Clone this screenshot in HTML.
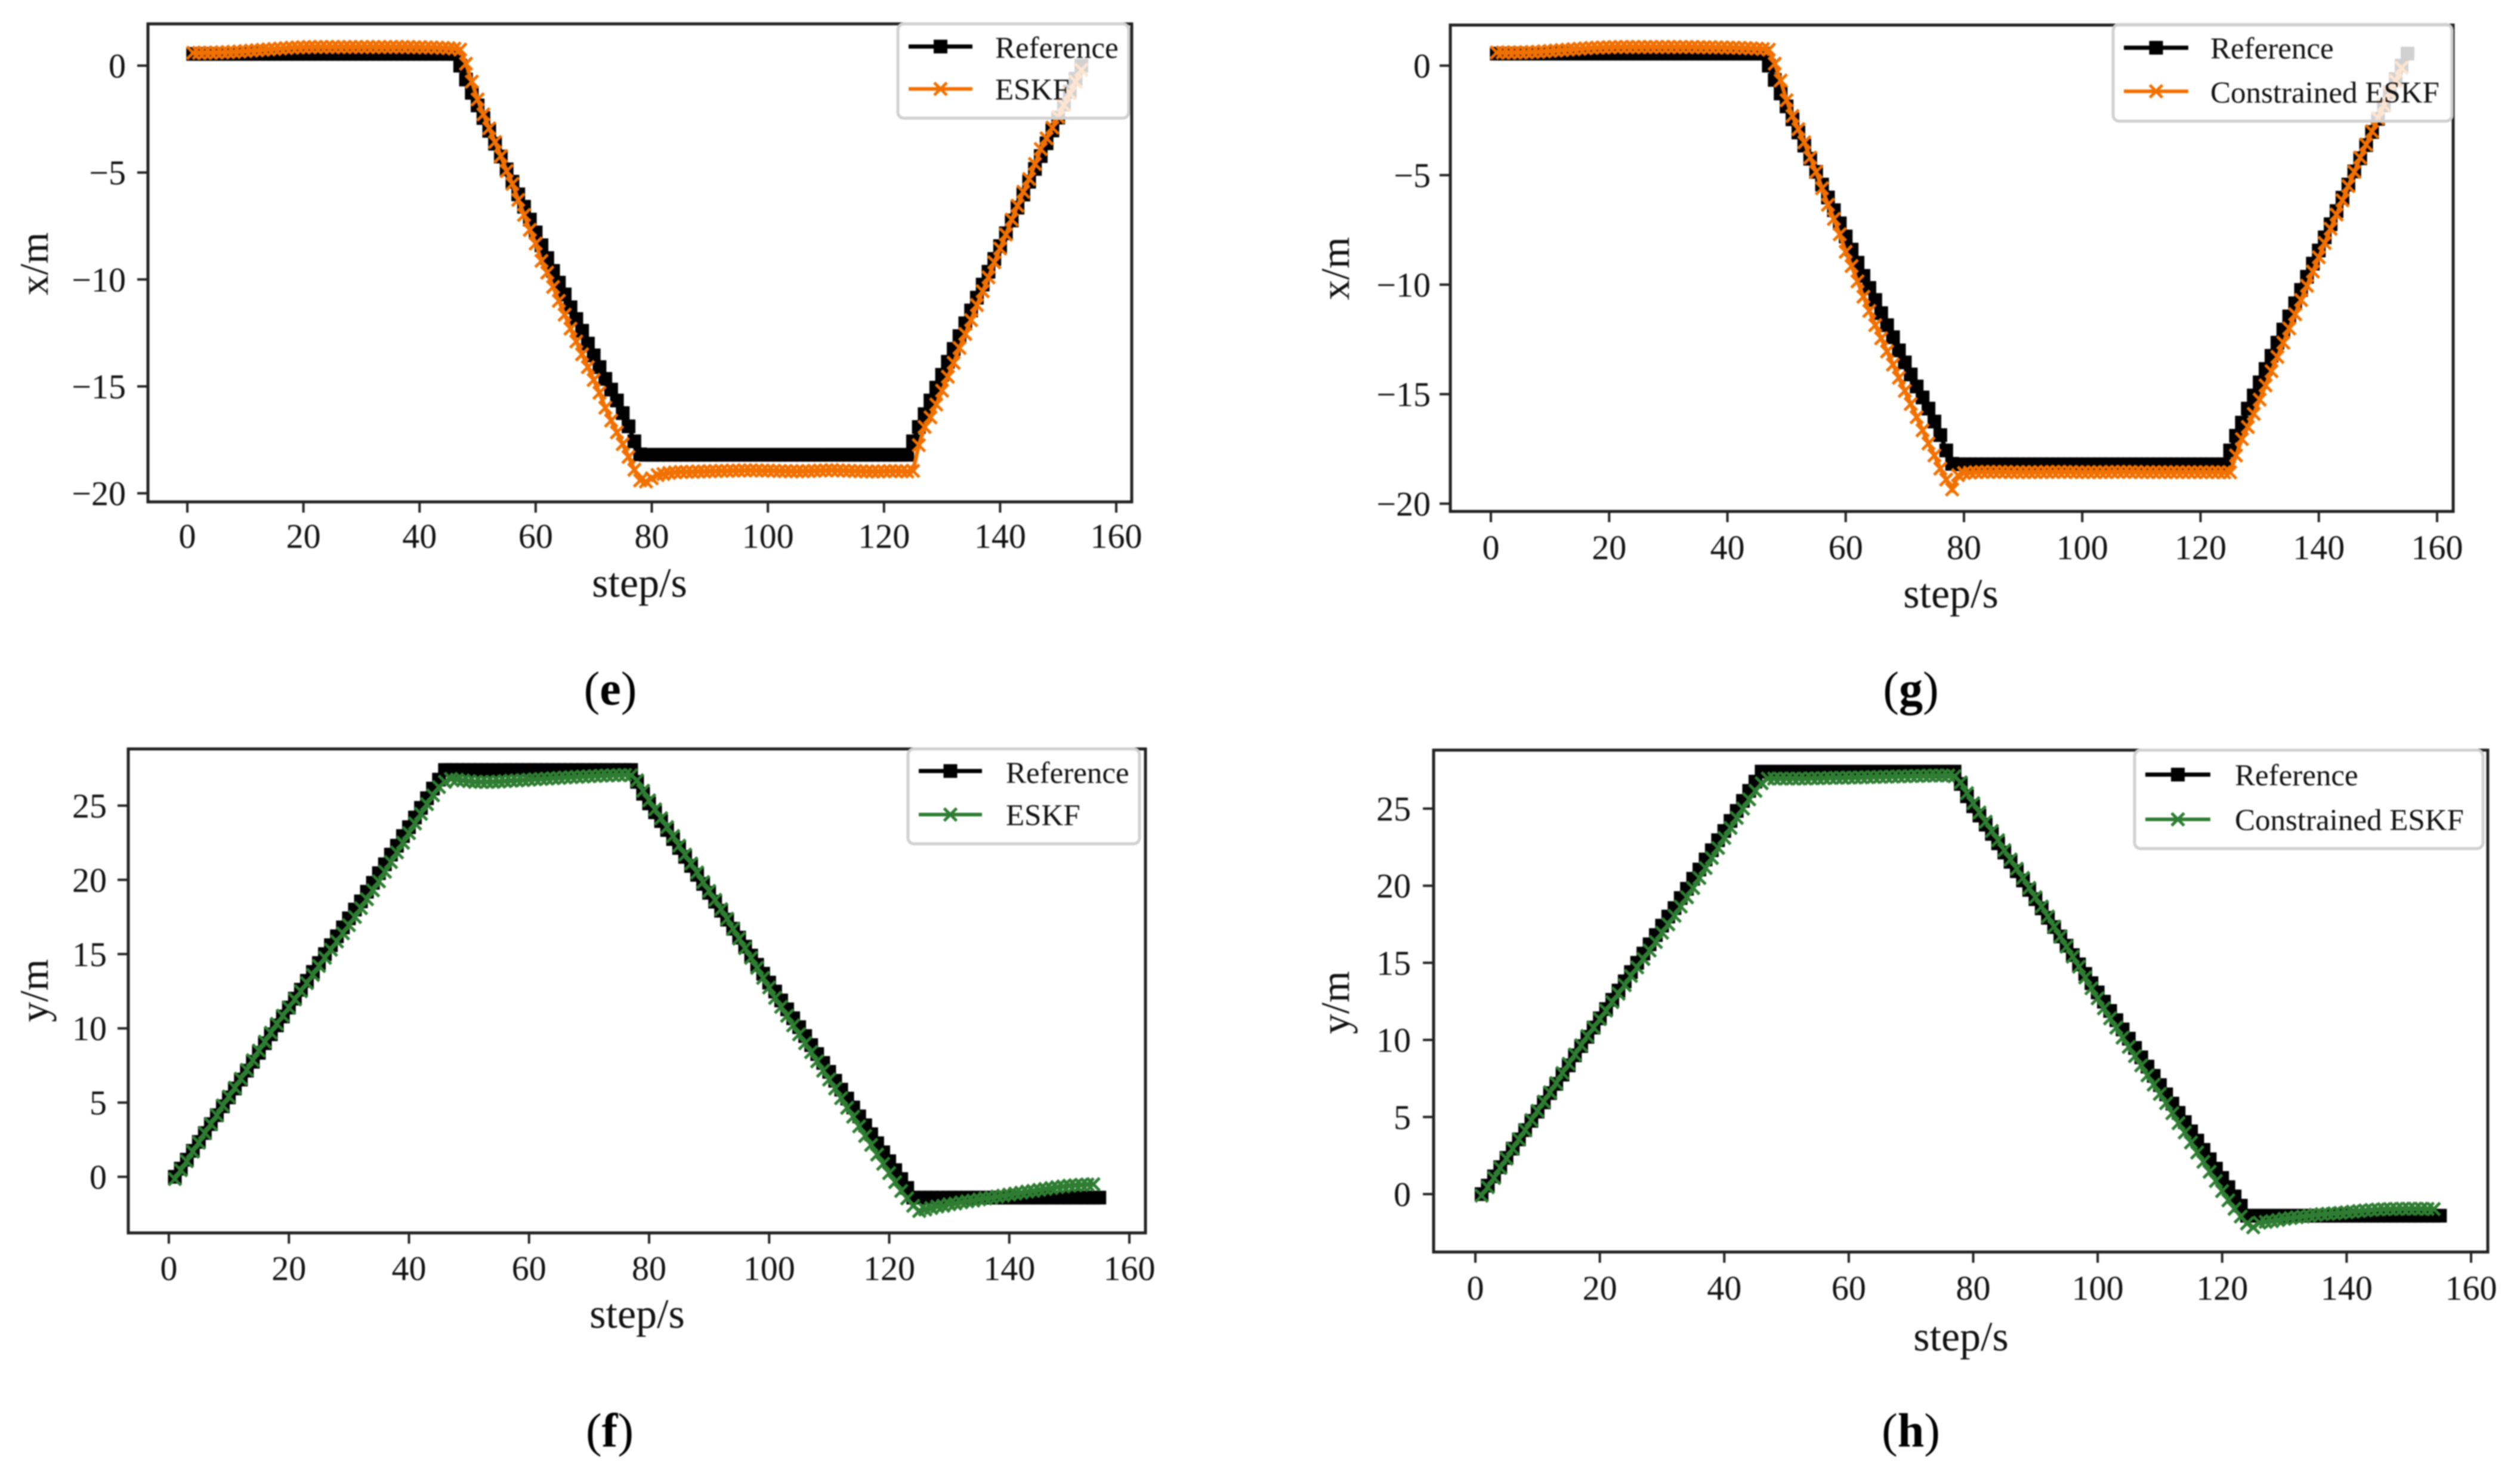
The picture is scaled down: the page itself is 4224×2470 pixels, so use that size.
<!DOCTYPE html>
<html lang="en">
<head>
<meta charset="utf-8">
<title>ESKF and Constrained ESKF trajectory comparison</title>
<style>
html,body{margin:0;padding:0;background:#fff;}
#figure{display:block;width:4224px;height:2470px;background:#fff;filter:blur(1px);font-family:"Liberation Serif",serif;}
</style>
</head>
<body>
<svg id="figure" xmlns="http://www.w3.org/2000/svg" width="4224" height="2470" viewBox="0 0 4224 2470"></svg>
<script>
const steps = [1,2,3,4,5,6,7,8,9,10,11,12,13,14,15,16,17,18,19,20,21,22,23,24,25,26,27,28,29,30,31,32,33,34,35,36,37,38,39,40,41,42,43,44,45,46,47,48,49,50,51,52,53,54,55,56,57,58,59,60,61,62,63,64,65,66,67,68,69,70,71,72,73,74,75,76,77,78,79,80,81,82,83,84,85,86,87,88,89,90,91,92,93,94,95,96,97,98,99,100,101,102,103,104,105,106,107,108,109,110,111,112,113,114,115,116,117,118,119,120,121,122,123,124,125,126,127,128,129,130,131,132,133,134,135,136,137,138,139,140,141,142,143,144,145,146,147,148,149,150,151,152,153,154,155];

const referenceX = [
.55,.55,.55,.55,.55,.55,.55,.55,.55,.55,.55,.55,.55,.55,.55,.55,.55,.55,.55,.55,.55,.55,.55,.55,.55,.55,.55,.55,.55,.55,.55,.55,.55,.55,.55,.55,.55,.55,.55,.55,.55,.55,.55,.55,.55,.55,
0,-.65,-1.27,-1.86,-2.45,-3.05,-3.65,-4.25,-4.85,-5.43,-6.02,-6.6,-7.2,-7.8,-8.4,-9,-9.6,-10.15,-10.7,-11.3,-11.85,-12.4,-13,-13.55,-14.1,-14.65,-15.15,-15.66,-16.25,-16.87,-17.57,-18.18,
-18.2,-18.2,-18.2,-18.2,-18.2,-18.2,-18.2,-18.2,-18.2,-18.2,-18.2,-18.2,-18.2,-18.2,-18.2,-18.2,-18.2,-18.2,-18.2,-18.2,-18.2,-18.2,-18.2,-18.2,-18.2,-18.2,-18.2,-18.2,-18.2,-18.2,-18.2,-18.2,-18.2,-18.2,-18.2,-18.2,-18.2,-18.2,-18.2,-18.2,-18.2,-18.2,-18.2,-18.2,-18.2,-18.2,
-17.57,-16.9,-16.3,-15.66,-15.06,-14.46,-13.85,-13.25,-12.65,-12.05,-11.45,-10.85,-10.24,-9.64,-9.04,-8.44,-7.84,-7.24,-6.64,-6.03,-5.43,-4.83,-4.23,-3.63,-3.03,-2.43,-1.82,-1.22,-.61,0,.55
];

const referenceY = [
0,.55,1.15,1.75,2.35,2.95,3.55,4.15,4.75,5.35,5.95,6.55,7.15,7.75,8.35,9,9.6,10.2,10.8,11.4,12,12.6,13.2,13.8,14.4,15,15.6,16.2,16.8,17.41,18,18.55,19.2,19.8,20.45,21.05,21.7,22.3,22.95,23.55,24.2,24.85,25.5,26.15,26.75,27.4,
27.4,27.4,27.4,27.4,27.4,27.4,27.4,27.4,27.4,27.4,27.4,27.4,27.4,27.4,27.4,27.4,27.4,27.4,27.4,27.4,27.4,27.4,27.4,27.4,27.4,27.4,27.4,27.4,27.4,27.4,27.4,
26.6,25.8,25.15,24.55,23.96,23.36,22.75,22.15,21.55,20.94,20.34,19.73,19.13,18.53,17.92,17.32,16.71,16.11,15.5,14.9,14.28,13.68,13.08,12.48,11.88,11.28,10.68,10.08,9.48,8.87,8.27,7.67,7.07,6.47,5.87,5.27,4.67,4.07,3.47,2.87,2.26,1.65,1.05,.45,-.15,-.75,-1.4,
-1.4,-1.4,-1.4,-1.4,-1.4,-1.4,-1.4,-1.4,-1.4,-1.4,-1.4,-1.4,-1.4,-1.4,-1.4,-1.4,-1.4,-1.4,-1.4,-1.4,-1.4,-1.4,-1.4,-1.4,-1.4,-1.4,-1.4,-1.4,-1.4,-1.4,-1.4
];

const eskfX = [
.6,.6,.6,.6,.61,.62,.63,.64,.66,.68,.7,.72,.74,.76,.78,.8,.82,.84,.85,.86,
.87,.87,.87,.87,.87,.87,.87,.87,.87,.87,.87,.87,.87,.87,.87,.87,.87,.87,.86,.86,
.85,.85,.84,.83,.82,.8,
.75,.09,-.75,-1.58,-2.28,-2.93,-3.57,-4.23,-4.93,-5.53,-6.28,-6.98,-7.68,-8.32,-9.13,-9.68,
-10.35,-11,-11.65,-12.3,-12.9,-13.5,-14.1,-14.7,-15.3,
-16,-16.6,-17.15,-17.7,-18.3,-18.9,-19.4,
-19.45,-19.3,-19.15,-19.1,-19.05,
-19.02,-19,-19,-19,-18.98,-18.98,-18.97,
-18.96,-18.95,-18.95,-18.94,-18.94,-18.93,-18.93,-18.93,-18.94,-18.94,
-18.95,-18.96,-18.96,-18.97,-18.97,-18.97,-18.96,-18.95,-18.94,-18.93,
-18.92,-18.93,-18.94,-18.95,-18.96,-18.97,-18.98,-18.98,-18.98,-18.97,
-18.96,-18.96,-18.97,-18.98,-18.95,
-17.75,-16.9,-16.45,-15.85,-15.2,-14.55,-13.9,-13.2,-12.55,-11.9,-11.2,-10.55,-9.9,-9.2,-8.55,-7.9,-7.2,-6.55,-5.9,-5.3,-4.6,-3.9,-3.4,-2.9,-2.4,-1.85,-1.3,-.75,-.2
];

const constrainedX = [
.6,.6,.6,.6,.6,.61,.62,.63,.65,.67,.69,.71,.73,.75,.77,.79,.81,.82,.83,.84,
.85,.85,.85,.85,.85,.85,.85,.85,.85,.85,.85,.85,.85,.85,.84,.84,.84,.83,.83,.82,
.82,.81,.8,.79,.78,.76,
.73,.09,-.68,-1.58,-2.3,-2.9,-3.5,-4.2,-4.85,-5.6,-6.35,-7,-7.7,-8.5,-9.15,-9.85,-10.55,-11.2,-11.85,-12.45,-13.05,-13.65,-14.25,-14.85,-15.45,-16.05,-16.65,-17.25,-17.8,-18.4,-18.9,-19.35,-18.7,-18.6,
-18.58,-18.56,-18.55,-18.55,-18.55,-18.55,-18.55,-18.56,-18.56,-18.56,
-18.56,-18.56,-18.56,-18.55,-18.55,-18.55,-18.55,-18.55,-18.56,-18.56,
-18.56,-18.56,-18.56,-18.56,-18.55,-18.55,-18.55,-18.55,-18.55,-18.56,
-18.56,-18.56,-18.56,-18.56,-18.56,-18.56,-18.56,-18.56,-18.56,-18.56,
-18.56,-18.56,-18.56,-18.57,-18.57,
-17.8,-17.05,-16.5,-15.9,-15.25,-14.6,-13.95,-13.3,-12.65,-12,-11.35,-10.7,-10.05,-9.4,-8.75,-8.1,-7.45,-6.8,-6.15,-5.5,-4.85,-4.2,-3.6,-3,-2.4,-1.8,-1.25,-.7,-.1
];

const eskfY = [
-.15,.45,1.05,1.7,2.3,2.95,3.55,4.15,4.8,5.4,6,6.6,7.2,7.85,8.5,9.1,9.7,10.3,10.85,11.4,11.95,12.5,13.05,13.6,14.2,14.75,15.3,15.85,16.4,16.95,17.5,18.1,18.7,19.3,19.9,20.55,21.2,21.85,22.5,23.15,23.8,24.45,25.1,25.7,26.25,26.6,
26.8,26.75,26.7,26.65,26.6,26.6,26.6,26.6,26.62,26.65,26.68,26.7,26.72,26.75,26.78,26.8,26.82,26.85,26.87,26.9,26.92,26.94,26.96,26.98,27,27.02,27.03,27.05,27.06,27.07,27.05,
26.7,26,25.35,24.75,24.15,23.55,22.95,22.3,21.7,21.1,20.5,19.85,19.25,18.65,18.02,17.38,16.7,16.05,15.4,14.75,14.08,13.4,12.75,12.05,11.45,10.85,10.2,9.6,9,8.4,7.78,7.15,6.55,5.95,5.3,4.65,4.05,3.4,2.75,2.15,1.5,.88,.25,-.35,-.95,-1.45,-1.95,
-2.3,-2.2,-2.1,-2,-1.95,-1.85,-1.8,-1.72,-1.65,-1.6,-1.52,-1.45,-1.4,-1.33,-1.27,-1.2,-1.13,-1.07,-1,-.95,-.88,-.82,-.76,-.7,-.65,-.6,-.57,-.54,-.52,-.5
];

const constrainedY = [
-.1,.45,1.05,1.7,2.3,2.95,3.55,4.15,4.8,5.4,6,6.6,7.2,7.85,8.45,9.05,9.65,10.25,10.8,11.35,11.9,12.45,13,13.55,14.15,14.7,15.25,15.8,16.35,16.95,17.5,18.05,18.65,19.25,19.85,20.5,21.15,21.8,22.45,23.1,23.75,24.4,25,25.6,26.15,26.65,
26.95,26.95,26.95,26.95,26.95,26.95,26.95,26.97,26.97,26.98,27,27,27,27.02,27.02,27.03,27.04,27.05,27.06,27.07,27.08,27.09,27.1,27.11,27.12,27.13,27.14,27.15,27.15,27.15,27.1,
26.7,26,25.35,24.75,24.15,23.55,22.95,22.3,21.7,21.1,20.5,19.85,19.25,18.65,18,17.35,16.7,16.05,15.4,14.75,14.05,13.35,12.7,12.05,11.4,10.8,10.15,9.55,8.95,8.35,7.7,7.1,6.5,5.9,5.25,4.6,4,3.35,2.7,2.1,1.45,.85,.2,-.4,-.95,-1.45,-1.9,
-2.15,-1.85,-1.8,-1.75,-1.68,-1.6,-1.55,-1.5,-1.45,-1.4,-1.35,-1.3,-1.28,-1.25,-1.22,-1.18,-1.14,-1.1,-1.06,-1.03,-1,-.98,-.97,-.96,-.95,-.95,-.95,-.95,-.96,-.97
];

const xTickValues = [0,20,40,60,80,100,120,140,160];
const xPositionTicks = [0,-5,-10,-15,-20];
const yPositionTicks = [0,5,10,15,20,25];

const NS = 'http://www.w3.org/2000/svg';
const root = document.getElementById('figure');
const ORANGE = '#f07000';
const GREEN = '#2e7d32';

function make(tag, parent, attrs) {
  const el = document.createElementNS(NS, tag);
  for (const k in attrs) el.setAttribute(k, attrs[k]);
  parent.appendChild(el);
  return el;
}
function tickLabel(v) {
  return v < 0 ? '\u2212' + Math.abs(v) : String(v);
}
function linePath(xs, ys, sx, sy, n) {
  let d = '';
  for (let i = 0; i < n; i++) {
    d += (i ? 'L' : 'M') + sx(xs[i]).toFixed(1) + ' ' + sy(ys[i]).toFixed(1);
  }
  return d;
}
function drawSquare(parent, cx, cy, size) {
  const m = make('rect', parent, {x: cx - size / 2, y: cy - size / 2, width: size, height: size, fill: '#000'});
  
  
}
function drawCross(parent, cx, cy, r, color, width) {
  const m = make('path', parent, {d: 'M' + (cx - r) + ' ' + (cy - r) + 'L' + (cx + r) + ' ' + (cy + r) + 'M' + (cx - r) + ' ' + (cy + r) + 'L' + (cx + r) + ' ' + (cy - r), stroke: color, 'stroke-width': width, fill: 'none'});
  
  
}

function drawPanel(p) {
  const g = make('g', root, {});
  
  

  const sx = v => p.x0 + v * (p.x160 - p.x0) / 160;
  const sy = v => p.y0 + v * p.yPerUnit;

  // reference series
  const refGroup = make('g', g, {});
  
  
  const refLine = make('path', refGroup, {d: linePath(steps, p.ref, sx, sy, p.refCount), fill: 'none', stroke: '#000', 'stroke-width': 7});
  
  
  for (let i = 0; i < p.refCount; i++) drawSquare(refGroup, sx(steps[i]), sy(p.ref[i]), 23);

  // estimate series
  const estGroup = make('g', g, {});
  
  
  const estLine = make('path', estGroup, {d: linePath(steps, p.est, sx, sy, p.est.length), fill: 'none', stroke: p.color, 'stroke-width': 6.5});
  
  
  for (let i = 0; i < p.est.length; i++) drawCross(estGroup, sx(steps[i]), sy(p.est[i]), 10.5, p.color, 5);

  // spines
  const frame = make('rect', g, {x: p.L, y: p.T, width: p.R - p.L, height: p.B - p.T, fill: 'none', stroke: '#222', 'stroke-width': 5});
  
  

  // x ticks
  xTickValues.forEach(v => {
    const t = make('line', g, {x1: sx(v), x2: sx(v), y1: p.B, y2: p.B + 18, stroke: '#222', 'stroke-width': 4});
    
    
    const l = make('text', g, {x: sx(v), y: p.xLabelBase, 'text-anchor': 'middle', 'font-size': 58, fill: '#111'});
    
    
    l.textContent = tickLabel(v);
  });

  // y ticks
  p.yTicks.forEach(v => {
    const t = make('line', g, {x1: p.L - 18, x2: p.L, y1: sy(v), y2: sy(v), stroke: '#222', 'stroke-width': 4});
    
    
    const l = make('text', g, {x: p.yLabelRight, y: sy(v) + 20, 'text-anchor': 'end', 'font-size': 58, fill: '#111'});
    
    
    l.textContent = tickLabel(v);
  });

  // axis titles
  const xt = make('text', g, {x: p.xTitleX, y: p.xTitleBase, 'text-anchor': 'middle', 'font-size': 70, fill: '#111'});
  
  
  xt.textContent = 'step/s';

  const yt = make('text', g, {transform: 'translate(' + p.yTitleBase + ' ' + p.yTitleY + ') rotate(-90)', 'text-anchor': 'middle', 'font-size': 68, fill: '#111'});
  
  
  yt.textContent = p.yTitle;

  // legend
  const lg = make('g', g, {});
  
  
  const box = make('rect', lg, {x: p.lgL, y: p.lgT, width: p.lgR - p.lgL, height: p.lgB - p.lgT, rx: 10, fill: 'rgba(255,255,255,0.82)', stroke: '#d0d0d0', 'stroke-width': 5});
  
  

  const h1 = make('line', lg, {x1: p.hL, x2: p.hR, y1: p.h1, y2: p.h1, stroke: '#000', 'stroke-width': 7});
  
  
  drawSquare(lg, (p.hL + p.hR) / 2, p.h1, 23);
  const t1 = make('text', lg, {x: p.lgText, y: p.b1, 'font-size': 51, fill: '#111'});
  
  
  t1.textContent = 'Reference';

  const h2 = make('line', lg, {x1: p.hL, x2: p.hR, y1: p.h2, y2: p.h2, stroke: p.color, 'stroke-width': 6});
  
  
  drawCross(lg, (p.hL + p.hR) / 2, p.h2, 10.5, p.color, 5);
  const t2 = make('text', lg, {x: p.lgText, y: p.b2, 'font-size': 51, fill: '#111'});
  
  
  t2.textContent = p.estName;

  // caption
  const cap = make('text', g, {x: p.capX, y: p.capBase, 'text-anchor': 'middle', 'font-size': 80, fill: '#000'});
  
  
  const open = make('tspan', cap, {});
  open.textContent = '(';
  const letter = make('tspan', cap, {'font-weight': 'bold'});
  letter.textContent = p.id;
  const close = make('tspan', cap, {});
  close.textContent = ')';
}

drawPanel({id: 'e', ref: referenceX, refCount: 154, est: eskfX, color: ORANGE, estName: 'ESKF', yTitle: 'x/m', yTicks: xPositionTicks,
  L: 248, R: 1897, T: 40, B: 841, x0: 314, x160: 1871, y0: 110, yPerUnit: -35.83,
  xLabelBase: 918, yLabelRight: 211, xTitleX: 1072, xTitleBase: 1000, yTitleBase: 80, yTitleY: 442,
  lgL: 1505, lgR: 1892, lgT: 40, lgB: 198, hL: 1523, hR: 1630, h1: 78, h2: 149, lgText: 1668, b1: 97, b2: 167,
  capX: 1023, capBase: 1181});

drawPanel({id: 'g', ref: referenceX, refCount: 155, est: constrainedX, color: ORANGE, estName: 'Constrained ESKF', yTitle: 'x/m', yTicks: xPositionTicks,
  L: 2431, R: 4112, T: 42, B: 857, x0: 2499, x160: 4085, y0: 110, yPerUnit: -36.7,
  xLabelBase: 937, yLabelRight: 2398, xTitleX: 3270, xTitleBase: 1018, yTitleBase: 2261, yTitleY: 450,
  lgL: 3542, lgR: 4110, lgT: 41, lgB: 203, hL: 3560, hR: 3668, h1: 80, h2: 153, lgText: 3705, b1: 98, b2: 172,
  capX: 3203, capBase: 1181});

drawPanel({id: 'f', ref: referenceY, refCount: 155, est: eskfY, color: GREEN, estName: 'ESKF', yTitle: 'y/m', yTicks: yPositionTicks,
  L: 215, R: 1920, T: 1255, B: 2066, x0: 283, x160: 1893, y0: 1972, yPerUnit: -24.88,
  xLabelBase: 2145, yLabelRight: 179, xTitleX: 1068, xTitleBase: 2225, yTitleBase: 80, yTitleY: 1660,
  lgL: 1522, lgR: 1910, lgT: 1255, lgB: 1414, hL: 1540, hR: 1646, h1: 1292, h2: 1365, lgText: 1686, b1: 1312, b2: 1383,
  capX: 1022, capBase: 2424});

drawPanel({id: 'h', ref: referenceY, refCount: 155, est: constrainedY, color: GREEN, estName: 'Constrained ESKF', yTitle: 'y/m', yTicks: yPositionTicks,
  L: 2403, R: 4170, T: 1257, B: 2098, x0: 2473, x160: 4142, y0: 2001, yPerUnit: -25.84,
  xLabelBase: 2178, yLabelRight: 2365, xTitleX: 3287, xTitleBase: 2263, yTitleBase: 2261, yTitleY: 1680,
  lgL: 3578, lgR: 4162, lgT: 1257, lgB: 1422, hL: 3596, hR: 3705, h1: 1298, h2: 1373, lgText: 3746, b1: 1316, b2: 1391,
  capX: 3203, capBase: 2424});
</script>
</body>
</html>
